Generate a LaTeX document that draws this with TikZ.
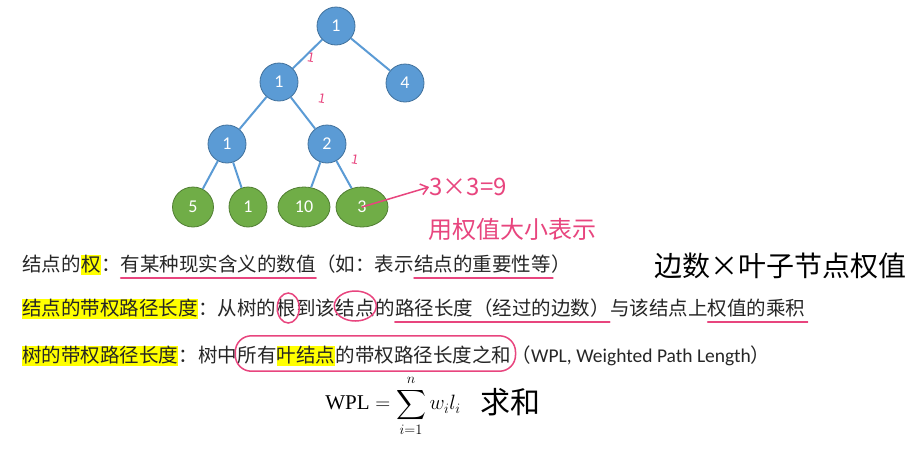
\documentclass[tikz,border=0pt]{standalone}
\usepackage{amsmath}
\usepackage{fontspec}
\setmainfont{Carlito}
\newfontfamily\cjk{Noto Sans CJK SC}
\newfontfamily\timesf{Liberation Serif}
\usepackage{tikz}
\usetikzlibrary{shapes.geometric,arrows.meta,positioning,calc}
\definecolor{nodeblue}{HTML}{5B9BD5}
\definecolor{nodeborder}{HTML}{41719C}
\definecolor{leafgreen}{HTML}{70AD47}
\definecolor{leafborder}{HTML}{507E32}
\definecolor{pen}{HTML}{E8457E}
\definecolor{hlyellow}{HTML}{FFFF00}
\definecolor{textgray}{HTML}{262626}

\begin{document}
\begin{tikzpicture}[
    x=1pt, y=-1pt,
    inner/.style={circle, fill=nodeblue, draw=nodeborder, line width=0.8pt, minimum size=38pt, inner sep=0pt, text=white, font=\fontsize{18}{20}\selectfont},
    leaf/.style={ellipse, fill=leafgreen, draw=leafborder, line width=0.8pt, minimum height=40pt, minimum width=40pt, inner sep=0pt, text=white, font=\fontsize{18}{20}\selectfont},
    branch/.style={draw=nodeblue, line width=2pt},
    seg/.style={inner sep=0pt, text height=16pt, text depth=4pt, text=textgray, font=\cjk\fontsize{19.5}{22}\selectfont},
    hl/.style={seg, fill=hlyellow},
    penline/.style={draw=pen, line width=1.5pt, line cap=round},
    tick/.style={text=pen, inner sep=0pt, font=\cjk\fontsize{13}{14}\selectfont},
    scribble/.style={text=pen, inner sep=0pt, font=\cjk\fontsize{24}{26}\selectfont},
    ink/.style={text=black, inner sep=0pt, font=\cjk\fontsize{28}{30}\selectfont},
    node distance=0pt
]
\fill[white] (0,0) rectangle (915,448);

\node[inner] (root) at (336,26) {1};
\node[inner] (n1) at (279,82) {1};
\node[inner] (n4) at (405,83) {4};
\node[inner] (n11) at (227,144) {1};
\node[inner] (n2) at (327,144) {2};
\node[leaf, minimum width=41pt] (k5) at (193,207) {5};
\node[leaf, minimum width=38pt] (k1) at (248,207) {1};
\node[leaf, minimum width=52pt] (k10) at (304,207) {10};
\node[leaf, minimum width=52pt] (k3) at (362,207) {3};

\foreach \i/\j in {root/n1, root/n4, n1/n11, n1/n2, n11/k5, n11/k1, n2/k10, n2/k3}
  \draw[branch] (\i) -- (\j);

\node[tick, rotate=-10] (t1) at (311,58) {1};
\node[tick, rotate=-10] (t2) at (322,99) {1};
\node[tick, rotate=-10] (t3) at (355,160) {1};

\node[scribble] (calc) at (468,187) {3×3=9};
\draw[penline, -{Straight Barb[length=7pt, width=11pt]}] (k3.center) -- (calc.west);
\node[scribble] (note1) at (512,229) {用权值大小表示};

\node[seg, anchor=west] (a1) at (22,265) {结点的};
\node[hl, right=of a1] (a2) {权};
\node[seg, right=of a2] (a3) {：};
\node[seg, right=of a3] (a4) {有某种现实含义的数值};
\node[seg, right=of a4] (a5) {（如：表示};
\node[seg, right=of a5] (a6) {结点的重要性等};
\node[seg, right=of a6] (a7) {）};
\draw[penline] ($(a4.south west)+(0,3)$) -- ($(a4.south east)+(0,3)$);
\draw[penline] ($(a6.south west)+(0,3)$) -- ($(a6.south east)+(2,3)$);

\node[hl, anchor=west] (b1) at (22,309) {结点的带权路径长度};
\node[seg, right=of b1] (b2) {：从树的};
\node[seg, right=of b2] (b3) {根};
\node[seg, right=of b3] (b4) {到该};
\node[seg, right=of b4] (b5) {结点};
\node[seg, right=of b5] (b6) {的};
\node[seg, right=of b6] (b7) {路径长度（经过的边数）};
\node[seg, right=of b7] (b8) {与该结点上};
\node[seg, right=of b8] (b9) {权值的乘积};
\draw[penline] ($(b3.center)+(2,-1)$) ellipse [x radius=11pt, y radius=15pt];
\draw[penline] ($(b5.center)+(0,-3)$) ellipse [x radius=21pt, y radius=15pt];
\draw[penline] ($(b7.south west)+(0,3)$) -- ($(b7.south east)+(0,3)$);
\draw[penline] ($(b9.south west)+(0,3)$) -- ($(b9.south east)+(2,3)$);

\node[hl, anchor=west] (c1) at (22,356) {树的带权路径长度};
\node[seg, right=of c1] (c2) {：树中};
\node[seg, right=of c2] (c3) {所有};
\node[hl, right=of c3] (c4) {叶结点};
\node[seg, right=of c4] (c5) {的带权路径长度之和};
\node[seg, right=of c5] (c6) {（{\rmfamily WPL, Weighted Path Length}）};
\draw[penline, rounded corners=16pt] ($(c3.north west)+(-2,-10)$) rectangle ($(c5.south east)+(4,5)$);

\node[inner sep=0pt, font=\fontsize{21}{24}\selectfont] (wpl) at (393,406) {$\mbox{\timesf WPL} = \displaystyle\sum_{i=1}^{n} w_i l_i$};
\node[ink, font=\cjk\fontsize{30}{32}\selectfont] (sum) at (510,402) {求和};
\node[ink] (note2) at (780,266) {边数×叶子节点权值};
\end{tikzpicture}
\end{document}
